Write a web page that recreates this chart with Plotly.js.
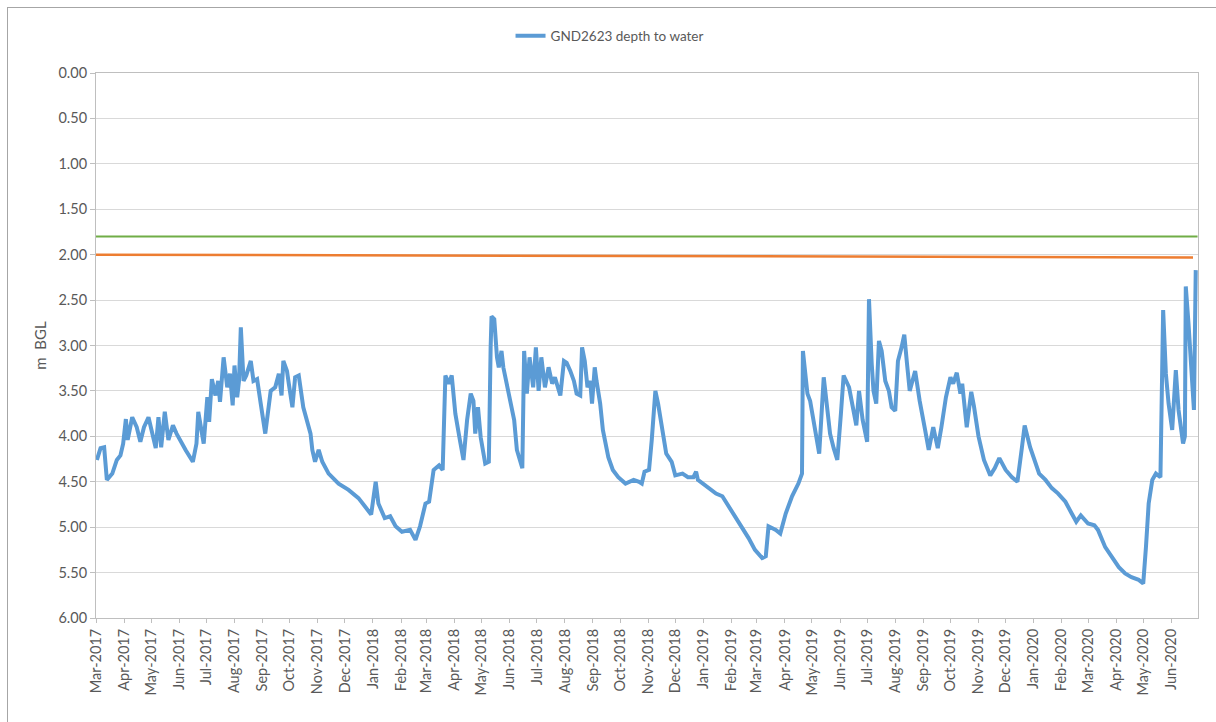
<!DOCTYPE html>
<html>
<head>
<meta charset="utf-8">
<script src="https://cdn.plot.ly/plotly-3.0.1.min.js"></script>
<style>
  html, body { margin: 0; padding: 0; background: #ffffff; }
  #wrap { position: relative; width: 1216px; height: 722px; overflow: hidden; }
  #chart { width: 1216px; height: 722px; }
  #frame { position: absolute; left: 7px; top: 7px; width: 1230px; height: 740px;
           border: 1px solid #a6a6a6; pointer-events: none; box-sizing: border-box; }
</style>
</head>
<body>
<div id="wrap">
  <div id="chart"></div>
  <div id="frame"></div>
</div>
<script>
// ---- Data ----
const seriesName = 'GND2623 depth to water';
const dates = [
'2017-03-02','2017-03-06','2017-03-10','2017-03-13','2017-03-19','2017-03-24','2017-03-28','2017-03-31',
'2017-04-03','2017-04-05','2017-04-10','2017-04-15','2017-04-19','2017-04-23','2017-04-28',
'2017-05-02','2017-05-06','2017-05-09','2017-05-12','2017-05-16','2017-05-20','2017-05-25','2017-05-29',
'2017-06-08','2017-06-16','2017-06-20','2017-06-22','2017-06-28',
'2017-07-02','2017-07-04','2017-07-07','2017-07-11','2017-07-14','2017-07-16','2017-07-20','2017-07-24','2017-07-27','2017-07-30',
'2017-08-01','2017-08-04','2017-08-06','2017-08-08','2017-08-11','2017-08-14','2017-08-19','2017-08-22','2017-08-26','2017-08-30',
'2017-09-04','2017-09-10','2017-09-15','2017-09-19','2017-09-22','2017-09-24','2017-09-28','2017-09-30',
'2017-10-04','2017-10-07','2017-10-11','2017-10-16','2017-10-24','2017-10-26','2017-10-29',
'2017-11-02','2017-11-06','2017-11-13','2017-11-24',
'2017-12-05','2017-12-16','2017-12-23','2017-12-30',
'2018-01-04','2018-01-07','2018-01-14','2018-01-20','2018-01-26',
'2018-02-02','2018-02-11','2018-02-17','2018-02-22','2018-02-28',
'2018-03-04','2018-03-09','2018-03-15','2018-03-19','2018-03-22','2018-03-26','2018-03-29',
'2018-04-02','2018-04-07','2018-04-11','2018-04-15','2018-04-19','2018-04-22','2018-04-24','2018-04-27','2018-04-30',
'2018-05-05','2018-05-09','2018-05-11','2018-05-12','2018-05-15','2018-05-18','2018-05-20','2018-05-23','2018-05-25','2018-05-31',
'2018-06-06','2018-06-09','2018-06-13','2018-06-15','2018-06-17','2018-06-20','2018-06-23','2018-06-27','2018-06-30',
'2018-07-03','2018-07-06','2018-07-10','2018-07-14','2018-07-18','2018-07-21','2018-07-27','2018-07-31',
'2018-08-03','2018-08-07','2018-08-11','2018-08-14','2018-08-18','2018-08-20','2018-08-23','2018-08-26','2018-08-29','2018-08-31',
'2018-09-03','2018-09-05','2018-09-09','2018-09-12','2018-09-18','2018-09-23','2018-09-29',
'2018-10-07','2018-10-16','2018-10-22','2018-10-25','2018-10-28',
'2018-11-02','2018-11-05','2018-11-09','2018-11-12','2018-11-17','2018-11-21','2018-11-27',
'2018-12-01','2018-12-09','2018-12-15','2018-12-21','2018-12-24','2018-12-26',
'2019-01-04','2019-01-15','2019-01-22','2019-01-29',
'2019-02-09','2019-02-20','2019-02-27',
'2019-03-07','2019-03-11','2019-03-14','2019-03-22','2019-03-27',
'2019-04-02','2019-04-09','2019-04-16','2019-04-20','2019-04-21','2019-04-24','2019-04-26','2019-04-29',
'2019-05-03','2019-05-09','2019-05-14','2019-05-17','2019-05-21','2019-05-25','2019-05-29',
'2019-06-02','2019-06-05','2019-06-11','2019-06-14','2019-06-19','2019-06-22','2019-06-26',
'2019-07-01','2019-07-03','2019-07-06','2019-07-08','2019-07-11','2019-07-14','2019-07-17','2019-07-21','2019-07-25','2019-07-28',
'2019-08-01','2019-08-04','2019-08-08','2019-08-11','2019-08-14','2019-08-17','2019-08-23','2019-08-28',
'2019-09-03','2019-09-07','2019-09-12','2019-09-17','2019-09-21','2019-09-26',
'2019-10-01','2019-10-04','2019-10-08','2019-10-12','2019-10-14','2019-10-19','2019-10-24','2019-10-27',
'2019-11-01','2019-11-07','2019-11-14','2019-11-19','2019-11-24',
'2019-12-01','2019-12-08','2019-12-14','2019-12-19','2019-12-22','2019-12-28',
'2020-01-07','2020-01-14','2020-01-21','2020-01-28',
'2020-02-05','2020-02-12','2020-02-17','2020-02-22',
'2020-03-01','2020-03-08','2020-03-12','2020-03-20','2020-03-27',
'2020-04-04','2020-04-11','2020-04-18','2020-04-26',
'2020-05-01','2020-05-04','2020-05-07','2020-05-11','2020-05-15','2020-05-20','2020-05-23','2020-05-26','2020-05-29',
'2020-06-02','2020-06-06','2020-06-09','2020-06-14','2020-06-16','2020-06-17','2020-06-20','2020-06-23','2020-06-26','2020-06-28'
];
const depthToWater = [
4.26,4.13,4.12,4.48,4.41,4.26,4.21,4.08,
3.81,4.04,3.79,3.90,4.06,3.90,3.79,
3.97,4.13,3.79,4.12,3.73,4.04,3.88,3.97,
4.15,4.28,4.08,3.73,4.08,
3.57,3.84,3.37,3.55,3.39,3.62,3.13,3.46,3.31,3.66,
3.22,3.57,3.39,2.80,3.39,3.33,3.17,3.39,3.37,3.64,
3.97,3.50,3.46,3.31,3.55,3.17,3.28,3.42,
3.68,3.35,3.33,3.68,3.97,4.15,4.28,
4.15,4.28,4.41,4.52,
4.59,4.68,4.77,4.86,
4.50,4.74,4.90,4.88,4.99,
5.05,5.03,5.14,4.99,4.74,
4.72,4.37,4.32,4.37,3.33,3.42,3.33,
3.75,4.04,4.26,3.82,3.53,3.61,3.97,3.68,4.01,
4.30,4.28,3.02,2.68,2.71,3.13,3.24,3.06,3.24,3.53,
3.82,4.15,4.30,4.35,3.06,3.53,3.13,3.46,3.02,
3.50,3.13,3.46,3.24,3.42,3.35,3.55,3.17,
3.19,3.28,3.39,3.53,3.55,3.02,3.17,3.46,3.39,3.64,
3.24,3.39,3.64,3.93,4.23,4.37,4.45,
4.52,4.48,4.50,4.52,4.39,
4.37,4.04,3.50,3.64,3.93,4.19,4.28,
4.43,4.41,4.45,4.45,4.39,4.48,
4.55,4.63,4.66,4.77,
4.93,5.12,5.25,
5.34,5.32,4.99,5.03,5.07,
4.85,4.66,4.52,4.41,3.06,3.31,3.53,3.61,
3.82,4.19,3.35,3.61,3.97,4.13,4.26,
3.75,3.33,3.46,3.61,3.88,3.50,3.82,
4.06,2.49,3.20,3.50,3.64,2.95,3.06,3.39,3.50,3.68,
3.72,3.17,3.02,2.88,3.20,3.50,3.28,3.61,
3.93,4.15,3.90,4.13,3.90,3.57,
3.35,3.42,3.30,3.53,3.42,3.90,3.51,3.67,
4.00,4.26,4.43,4.35,4.24,
4.37,4.45,4.50,4.12,3.88,4.12,
4.41,4.48,4.57,4.63,
4.72,4.85,4.94,4.87,
4.96,4.98,5.03,5.22,5.33,
5.44,5.51,5.55,5.58,
5.62,5.22,4.74,4.48,4.41,4.45,2.61,3.31,3.64,
3.93,3.27,3.71,4.08,4.00,2.35,2.76,3.34,3.71,2.17
];
// Reference levels (not in legend)
const greenLevelDates = ['2017-03-01', '2020-06-30'];
const greenLevelValues = [1.80, 1.80];
const orangeLevelDates = ['2017-03-01', '2020-06-25'];
const orangeLevelValues = [2.00, 2.03];

const xRange = ['2017-03-01', '2020-06-30 12:00'];
const yRange = [6, 0];
const yTitle = 'm  BGL';

// ---- Plot ----
const fontFamily = 'Lato, "Open Sans", "Liberation Sans", sans-serif';
const traces = [
  { x: greenLevelDates, y: greenLevelValues, type: 'scatter', mode: 'lines',
    line: { color: '#70ad47', width: 2 }, showlegend: false, hoverinfo: 'skip' },
  { x: orangeLevelDates, y: orangeLevelValues, type: 'scatter', mode: 'lines',
    line: { color: '#ed7d31', width: 2.5 }, showlegend: false, hoverinfo: 'skip' },
  { x: dates, y: depthToWater, type: 'scatter', mode: 'lines', name: seriesName,
    line: { color: '#5b9bd5', width: 4, shape: 'linear' } }
];

const layout = {
  width: 1216, height: 722,
  margin: { l: 96, r: 18, t: 73, b: 104, pad: 0 },
  paper_bgcolor: '#ffffff', plot_bgcolor: '#ffffff',
  font: { family: fontFamily, size: 13, color: '#595959' },
  showlegend: true,
  legend: { orientation: 'h', x: 0.466, xanchor: 'center', y: 1.068, yanchor: 'middle',
            font: { family: fontFamily, size: 13.5, color: '#595959' }, bgcolor: 'rgba(0,0,0,0)' },
  xaxis: {
    type: 'date', range: xRange, tick0: '2017-03-01', dtick: 'M1', tickformat: '%b-%Y',
    tickangle: -90, ticks: 'outside', ticklen: 4, tickcolor: '#bfbfbf',
    showgrid: false, showline: true, linecolor: '#bfbfbf', linewidth: 1, mirror: true,
    tickfont: { family: fontFamily, size: 14.5, color: '#595959' }, zeroline: false
  },
  yaxis: {
    range: yRange, tick0: 0, dtick: 0.5, tickformat: '.2f',
    ticks: 'outside', ticklen: 5, tickcolor: '#bfbfbf',
    showgrid: true, gridcolor: '#d9d9d9', gridwidth: 1,
    showline: true, linecolor: '#bfbfbf', linewidth: 1, mirror: true, zeroline: false,
    tickfont: { family: fontFamily, size: 14.5, color: '#595959' },
    title: { text: yTitle, standoff: 8, font: { family: fontFamily, size: 15, color: '#595959' } }
  }
};

Plotly.newPlot('chart', traces, layout, { displayModeBar: false, staticPlot: true });
</script>
</body>
</html>
